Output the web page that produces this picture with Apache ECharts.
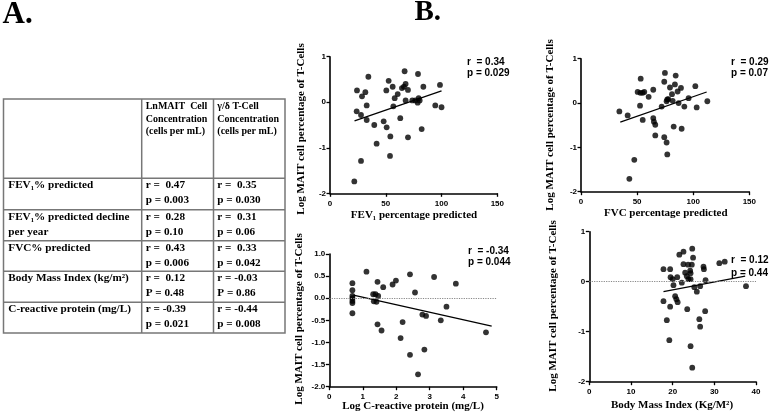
<!DOCTYPE html>
<html><head><meta charset="utf-8">
<script src="https://cdn.jsdelivr.net/npm/echarts@6/dist/echarts.min.js"></script>
<style>html,body{margin:0;padding:0;background:#fff}#c{width:773px;height:416px}</style>
</head><body><div id="c"></div>
<script>
// ---------- Table (panel A) ----------
const colHeaders2 = ['LnMAIT  Cell', 'Concentration', '(cells per mL)'];
const colHeaders3 = ['\u03b3/\u03b4 T-Cell', 'Concentration', '(cells per mL)'];
const rowLabels = [['FEV\u2081% predicted'], ['FEV\u2081% predicted decline', 'per year'], ['FVC% predicted'], ['Body Mass Index (kg/m\u00b2)'], ['C-reactive protein (mg/L)']];
const pLetters = ['p', 'p', 'p', 'P', 'p'];
const maitR = ['0.47', '0.28', '0.43', '0.12', '-0.39'];
const maitP = ['0.003', '0.10', '0.006', '0.48', '0.021'];
const gdR = ['0.35', '0.31', '0.33', '-0.03', '-0.44'];
const gdP = ['0.030', '0.06', '0.042', '0.86', '0.008'];

// ---------- Scatter data (panel B) ----------
const fevX = [34.4,24.2,31.7,28.7,32.9,23.9,27.8,32.9,39.7,27.8,21.8,41.8,48.1,50.8,50.5,52.6,56.2,56.8,54.1,53.8,58,60.7,64.5,66.3,67.8,66.9,69.9,67.8,63,69.9,73.8,76.5,78.9,79.5,78.6,80.4,82.2,83.7,94.4,98.6,100];
const fevY = [0.56,0.26,0.22,0.13,-0.07,-0.20,-0.28,-0.39,-0.50,-1.29,-1.74,-0.91,-0.42,-0.55,0.26,0.47,0.34,-0.09,-0.75,-1.18,0.09,0.18,0.31,0.34,0.40,0.68,0.27,0.04,-0.35,-0.77,0.04,0.04,0.62,0.09,-0.01,0.04,-0.59,0.34,-0.07,0.38,-0.11];
const fevFit = [[22, -0.41], [100, 0.25]];

const fvcX = [34.2,41.6,47.5,43.1,53.2,50.5,52.9,55,56.4,52.6,55,60.3,64.4,64.4,65,66.2,66.2,74.8,74.2,71.9,74.2,76.3,76.9,76.3,77.8,76.9,79.3,81.1,81.7,84.4,83.7,86.1,87,89.1,82.6,89.7,92.1,95.9,101.9,103.1,112.6];
const fvcY = [-0.19,-0.28,-1.28,-1.71,0.55,0.25,0.23,0.23,0.25,-0.06,-0.38,0.14,0.30,-0.34,-0.42,-0.49,-0.73,0.68,0.48,-0.08,-0.77,-0.89,-1.16,0.04,0.09,0.08,0.35,0.20,0.05,0.62,0.42,0.26,0.0,0.34,-0.53,-0.58,-0.08,0.11,0.38,-0.10,0.04];
const fvcFit = [[35, -0.43], [112, 0.25]];

const crpX = [0.69,0.69,0.69,0.69,0.69,0.69,0.69,1.11,1.31,1.33,1.38,1.41,1.44,1.46,1.44,1.56,1.61,1.89,1.99,2.19,2.13,2.41,2.41,2.56,2.65,2.78,2.89,2.84,3.13,3.33,3.50,3.78,4.68];
const crpY = [0.34,0.18,0.05,0.0,-0.06,-0.11,-0.34,0.60,0.09,-0.07,0.09,-0.08,0.37,0.05,-0.59,-0.73,0.25,0.31,0.40,-0.54,-0.90,0.54,-1.28,0.13,-1.72,-0.37,-0.40,-1.16,0.48,-0.50,-0.19,0.33,-0.77];
const crpFit = [[0.72, 0.07], [4.85, -0.63]];

const bmiX = [17.8,17.8,18.6,19.4,19.5,20,20.2,19.4,19.2,20.6,20.9,21.2,21.1,21.6,22.2,22.6,22.6,23,23.4,23.7,23.8,24.3,24.3,24.6,24.2,23.5,24.3,24.7,24.7,24.9,25.2,25.8,26.4,26.6,26.6,27.4,27.5,27.9,27.8,31.2,32.5,37.6];
const bmiY = [0.25,-0.39,-0.77,0.25,0.09,0.05,-0.07,-0.5,-1.17,-0.29,-0.35,-0.41,0.09,0.54,-0.02,0.6,0.35,0.18,0.11,0.34,0.05,0.17,0.05,0.34,0.22,-0.55,-1.29,-1.72,0.66,0.48,-0.11,-0.2,-0.75,-0.9,-0.09,0.3,0.25,0.03,-0.59,0.37,0.4,-0.09];
const bmiFit = [[17.8, -0.2], [37.4, 0.11]];

const xTitles = ['FEV\u2081 percentage predicted', 'FVC percentage predicted', 'Log C-reactive protein (mg/L)', 'Body Mass Index (Kg/M\u00b2)'];
const yTitle = 'Log MAIT cell percentage of T-Cells';
const statR = ['r  = 0.34', 'r  = 0.29', 'r  = -0.34', 'r  = 0.12'];
const statP = ['p = 0.029', 'p = 0.07', 'p = 0.044', 'p = 0.44'];

// ---------- layout ----------
const SERIF = '"Liberation Serif","Times New Roman",serif';
const SANS = '"Liberation Sans",Arial,sans-serif';
const grids = [
  {left: 330, top: 56.7, width: 167.3, height: 136.6},
  {left: 581, top: 58.7, width: 168.3, height: 133},
  {left: 329.3, top: 254, width: 167.4, height: 132.7},
  {left: 589.3, top: 231.7, width: 166.7, height: 150}
];
const xRanges = [[0,150,50],[0,150,50],[0,5,1],[0,40,10]];
const yRanges = [[-2,1,1],[-2,1,1],[-2,1,0.5],[-2,1,1]];
const yFmt = [v => String(v), v => String(v), v => v.toFixed(1), v => String(v)];
const xTitlePos = [[414,215],[665.8,213],[413,406.5],[672,405]];
const yTitlePos = [[301.5,129],[550,125],[299,319],[553,306]];
const statPos = [[467,62,73],[731,62,73],[468,251.7,262.5],[731,260.7,273.3]];

function zip(a, b) { return a.map((v, i) => [v, b[i]]); }
const scatterData = [zip(fevX, fevY), zip(fvcX, fvcY), zip(crpX, crpY), zip(bmiX, bmiY)];
const fits = [fevFit, fvcFit, crpFit, bmiFit];

const axisLine = {show: true, onZero: false, lineStyle: {color: '#000', width: 1.6}};
const axisTick = {show: true, inside: false, length: 3.5, lineStyle: {color: '#000', width: 1.3}};
const lblStyle = {color: '#000', fontFamily: SANS, fontWeight: 'bold', fontSize: 8};

const xAxis = [], yAxis = [], series = [], graphic = [];
for (let i = 0; i < 4; i++) {
  xAxis.push({type: 'value', gridIndex: i, min: xRanges[i][0], max: xRanges[i][1], interval: xRanges[i][2],
    axisLine, axisTick, splitLine: {show: false}, axisLabel: Object.assign({margin: 6}, lblStyle)});
  yAxis.push({type: 'value', gridIndex: i, min: yRanges[i][0], max: yRanges[i][1], interval: yRanges[i][2],
    axisLine, axisTick, splitLine: {show: false}, axisLabel: Object.assign({margin: 4, formatter: yFmt[i]}, lblStyle)});
  const sc = {type: 'scatter', xAxisIndex: i, yAxisIndex: i, data: scatterData[i], symbol: 'circle', symbolSize: 5.8,
    itemStyle: {color: '#000'}, silent: true};
  if (i >= 2) {
    sc.markLine = {silent: true, symbol: 'none', label: {show: false},
      lineStyle: {type: 'dotted', color: '#888', width: 1.2}, data: [{yAxis: 0}]};
  }
  series.push(sc);
  series.push({type: 'line', xAxisIndex: i, yAxisIndex: i, data: fits[i], symbol: 'none', silent: true,
    lineStyle: {color: '#000', width: 1.2}});
  graphic.push({type: 'text', x: xTitlePos[i][0], y: xTitlePos[i][1],
    style: {text: xTitles[i], font: 'bold 11px ' + SERIF, fill: '#000', textAlign: 'center', textVerticalAlign: 'middle'}});
  graphic.push({type: 'text', x: yTitlePos[i][0], y: yTitlePos[i][1], rotation: Math.PI / 2,
    style: {text: yTitle, font: 'bold 11px ' + SERIF, fill: '#000', textAlign: 'center', textVerticalAlign: 'middle'}});
  graphic.push({type: 'text', x: statPos[i][0], y: statPos[i][1],
    style: {text: statR[i], font: 'bold 10px ' + SANS, fill: '#000', textAlign: 'left', textVerticalAlign: 'middle'}});
  graphic.push({type: 'text', x: statPos[i][0], y: statPos[i][2],
    style: {text: statP[i], font: 'bold 10px ' + SANS, fill: '#000', textAlign: 'left', textVerticalAlign: 'middle'}});
}

// panel labels
graphic.push({type: 'text', x: 2.5, y: 14.5, style: {text: 'A.', font: 'bold 31px ' + SERIF, fill: '#000', textAlign: 'left', textVerticalAlign: 'middle'}});
graphic.push({type: 'text', x: 414.5, y: 12.5, style: {text: 'B.', font: 'bold 29px ' + SERIF, fill: '#000', textAlign: 'left', textVerticalAlign: 'middle'}});

// table
const T = {left: 3.5, right: 285, top: 99, bottom: 333, col2: 141.7, col3: 213.5};
const rowLines = [178.3, 209.7, 240.8, 271.2, 302.3];
const lineCol = '#777';
graphic.push({type: 'rect', shape: {x: T.left, y: T.top, width: T.right - T.left, height: T.bottom - T.top},
  style: {fill: 'none', stroke: lineCol, lineWidth: 1.5}});
[T.col2, T.col3].forEach(x => graphic.push({type: 'line', shape: {x1: x, y1: T.top, x2: x, y2: T.bottom}, style: {stroke: lineCol, lineWidth: 1.5}}));
rowLines.forEach(y => graphic.push({type: 'line', shape: {x1: T.left, y1: y, x2: T.right, y2: y}, style: {stroke: lineCol, lineWidth: 1.5}}));
const headY = [106.3, 119, 131.7];
function tText(x, y, s, size) {
  graphic.push({type: 'text', x, y, style: {text: s, font: 'bold ' + size + 'px ' + SERIF, fill: '#000', textAlign: 'left', textVerticalAlign: 'middle'}});
}
for (let k = 0; k < 3; k++) { tText(145.7, headY[k], colHeaders2[k], 10); tText(217.3, headY[k], colHeaders3[k], 10); }
const rowY1 = [185.5, 216.7, 247.7, 278.3, 309.2];
const lineGap = 15;
function fmtR(v) { return v.charAt(0) === '-' ? 'r = ' + v : 'r =  ' + v; }
for (let r = 0; r < 5; r++) {
  rowLabels[r].forEach((s, k) => tText(8.3, rowY1[r] + k * lineGap, s, 11.2));
  tText(145.7, rowY1[r], fmtR(maitR[r]), 11.2);
  tText(145.7, rowY1[r] + lineGap, pLetters[r] + ' = ' + maitP[r], 11.2);
  tText(217.3, rowY1[r], fmtR(gdR[r]), 11.2);
  tText(217.3, rowY1[r] + lineGap, pLetters[r] + ' = ' + gdP[r], 11.2);
}

const chart = echarts.init(document.getElementById('c'), null, {renderer: 'canvas'});
chart.setOption({
  animation: false,
  backgroundColor: '#fff',
  grid: grids.map(g => Object.assign({containLabel: false, outerBoundsMode: 'none'}, g)),
  xAxis, yAxis, series, graphic
});
</script></body></html>
